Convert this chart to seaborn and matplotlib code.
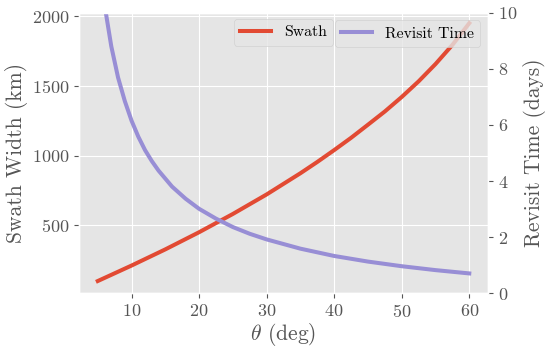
import matplotlib
matplotlib.use("Agg")
import matplotlib.pyplot as plt
import seaborn as sns
import pandas as pd

# Swath width (km)
swath_theta = [5, 10, 15, 20, 25, 30, 35, 37.5, 40, 42.5, 45, 47.5, 50,
               52.5, 55, 57.5, 60]
swath_km = [101, 212, 328, 451, 582, 722, 874, 955, 1040, 1128, 1222, 1317,
            1421, 1533, 1657, 1794, 1950]

# Revisit time (days)
revisit_theta = [5, 6, 7, 8, 9, 10, 11, 12, 13, 14, 16, 18, 20, 22.5, 25,
                 27.5, 30, 35, 40, 45, 50, 55, 60]
revisit_days = [12.34, 10.28, 8.8, 7.69, 6.85, 6.15, 5.58, 5.1, 4.71, 4.37,
                3.8, 3.37, 3.01, 2.66, 2.36, 2.12, 1.92, 1.59, 1.33, 1.13,
                0.965, 0.826, 0.708]

plt.style.use('ggplot')
plt.rcParams['font.family'] = 'cmr10'
plt.rcParams['mathtext.fontset'] = 'cm'
plt.rcParams['axes.formatter.use_mathtext'] = True

df_swath = pd.DataFrame({'theta': swath_theta, 'swath': swath_km})
df_revisit = pd.DataFrame({'theta': revisit_theta, 'revisit': revisit_days})

fig, ax1 = plt.subplots(figsize=(5.5, 3.5), dpi=100)
fig.subplots_adjust(left=0.144, right=0.887, top=0.964, bottom=0.162)

sns.lineplot(data=df_swath, x='theta', y='swath', ax=ax1, color='#E24A33',
             linewidth=2.9, label='Swath')
ax1.set_ylim(13, 2026)
ax1.set_yticks([500, 1000, 1500, 2000])
ax1.set_xticks([10, 20, 30, 40, 50, 60])
ax1.set_xlabel(r'$\theta$ (deg)', fontsize=15.5, labelpad=1)
ax1.set_ylabel('Swath Width (km)', fontsize=15.5, labelpad=3)
ax1.tick_params(labelsize=13)

ax2 = ax1.twinx()
sns.lineplot(data=df_revisit, x='theta', y='revisit', ax=ax2, color='#988ED5',
             linewidth=2.9, label='Revisit Time')
ax2.set_ylim(0, 10)
ax2.set_yticks([0, 2, 4, 6, 8, 10])
ax2.grid(False)
ax2.set_ylabel('Revisit Time (days)', fontsize=15.5)
ax2.tick_params(labelsize=13)

ax1.legend(loc='upper right', bbox_to_anchor=(0.621, 0.977), borderaxespad=0,
           fontsize=11.3)
ax2.legend(loc='upper right', fontsize=11.3)

plt.savefig('out.png', dpi=100)
